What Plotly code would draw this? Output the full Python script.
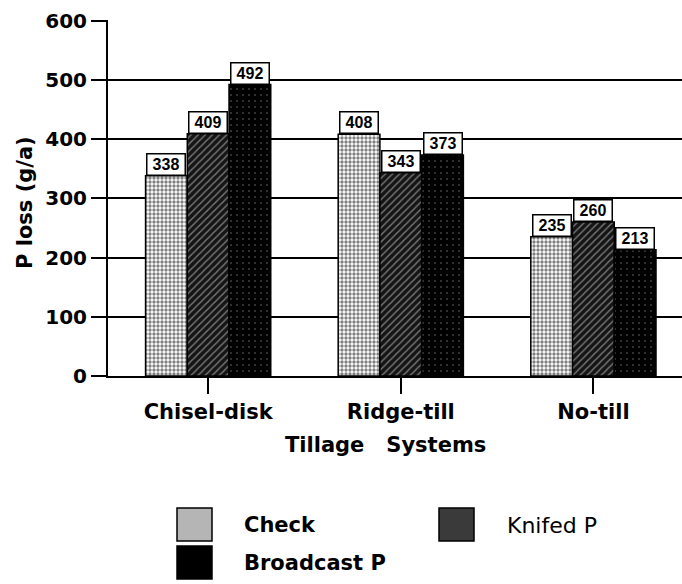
import plotly.graph_objects as go

categories = ["Chisel-disk", "Ridge-till", "No-till"]
series_names = ["Check", "Knifed P", "Broadcast P"]
check = [338, 408, 235]
knifed = [409, 343, 260]
broadcast = [492, 373, 213]
y_ticks = [0, 100, 200, 300, 400, 500, 600]

values = [check, knifed, broadcast]
patterns = [
    dict(shape=".", bgcolor="white", fgcolor="black", size=4, solidity=0.55),
    dict(shape="/", bgcolor="#151515", fgcolor="#e0e0e0", size=5, solidity=0.28),
    dict(shape=".", bgcolor="black", fgcolor="#777777", size=6, solidity=0.1),
]
FONT = "DejaVu Sans, sans-serif"
LFONT = "Liberation Sans, Arial, sans-serif"
group_frac = 0.65
bw = group_frac / 3

L, T, PW, PH = 108, 20, 574, 356

def px_to_paper(px, py):
    return (px - L) / PW, (T + PH - py) / PH

fig = go.Figure()
for k, (name, vals, pat) in enumerate(zip(series_names, values, patterns)):
    fig.add_trace(go.Bar(
        x=categories, y=vals, name=name,
        marker=dict(color="white", pattern=pat, line=dict(color="black", width=1.5)),
        showlegend=False,
    ))
    for i, v in enumerate(vals):
        fig.add_annotation(
            x=i + (k - 1) * bw, y=v, xref="x", yref="y",
            text=str(v), showarrow=False, yanchor="bottom",
            font=dict(family=LFONT, size=16, color="black", weight="bold"),
            bgcolor="white", bordercolor="black", borderwidth=1.5, borderpad=1,
            width=35, height=18,
        )

fig.update_layout(
    width=682, height=584,
    margin=dict(l=L, r=682 - L - PW, t=T, b=584 - T - PH, autoexpand=False),
    paper_bgcolor="white", plot_bgcolor="white",
    barmode="group", bargap=1 - group_frac, bargroupgap=0,
    font=dict(family=FONT, color="black"),
)
fig.update_yaxes(
    range=[0, 601], tickvals=y_ticks, ticksuffix="\u2002\u2009",
    showgrid=True, gridcolor="black", gridwidth=1.5,
    showline=True, linecolor="black", linewidth=2,
    ticks="outside", ticklen=15, tickwidth=1.5, tickcolor="black",
    tickfont=dict(family=FONT, size=20, weight="bold"),
    zeroline=False,
)
fig.update_xaxes(
    type="category", range=[-0.52, 2.46],
    showline=True, linecolor="black", linewidth=2,
    ticks="outside", ticklen=16, tickwidth=1.5, tickcolor="black",
    tickfont=dict(family=FONT, size=21, weight="bold"),
)

# axis titles
tx, ty = px_to_paper(385, 445)
fig.add_annotation(x=tx, y=ty, xref="paper", yref="paper", text="Tillage&nbsp;&nbsp;&nbsp;Systems",
                   showarrow=False, xanchor="center", yanchor="middle",
                   font=dict(family=FONT, size=21, weight="bold"))
tx, ty = px_to_paper(25, 203)
fig.add_annotation(x=tx, y=ty, xref="paper", yref="paper", text="P loss (g/a)", textangle=-90,
                   showarrow=False, xanchor="center", yanchor="middle",
                   font=dict(family=FONT, size=21, weight="bold"))

# manual legend (swatches + labels)
leg_items = [
    (series_names[0], 177, 508, 242, "#b5b5b5", "bold", 21),
    (series_names[1], 439, 508, 505, "#3a3a3a", "normal", 22),
    (series_names[2], 177, 546, 242, "black", "bold", 21),
]
for name, lx, ly, txp, col, wt, fs in leg_items:
    x0, y0 = px_to_paper(lx, ly + 33)
    x1, y1 = px_to_paper(lx + 35, ly)
    fig.add_shape(type="rect", xref="paper", yref="paper", x0=x0, y0=y0, x1=x1, y1=y1,
                  fillcolor=col, line=dict(color="black", width=1.5))
    tx, ty = px_to_paper(txp, ly + 17)
    fig.add_annotation(x=tx, y=ty, xref="paper", yref="paper", text=name, showarrow=False,
                       xanchor="left", yanchor="middle",
                       font=dict(family=FONT, size=fs, weight=wt))

fig.write_html("out.html", config={"displayModeBar": False},
               post_script="document.body.style.margin='0';")
